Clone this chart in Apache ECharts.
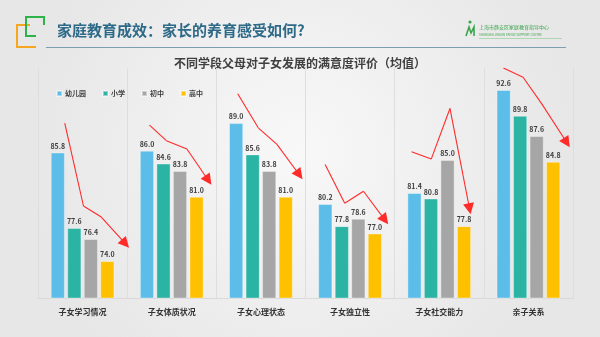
<!DOCTYPE html>
<html><head><meta charset="utf-8">
<script src="https://cdn.jsdelivr.net/npm/echarts@6/dist/echarts.min.js"></script>
<style>html,body{margin:0;padding:0;}#c{width:600px;height:337px;}</style>
</head><body><div id="c"></div>
<script>
const categories = ['子女学习情况','子女体质状况','子女心理状态','子女独立性','子女社交能力','亲子关系'];
const seriesNames = ['幼儿园','小学','初中','高中'];
const kindergarten = [85.8, 86.0, 89.0, 80.2, 81.4, 92.6];
const primary = [77.6, 84.6, 85.6, 77.8, 80.8, 89.8];
const juniorHigh = [76.4, 83.8, 83.8, 78.6, 85.0, 87.6];
const seniorHigh = [74.0, 81.0, 81.0, 77.0, 77.8, 84.8];
const colors = ['#5cbde9', '#2bb3a4', '#a6a6a6', '#ffc000'];
// red trend arrows: per category, points as [offset from category centre, value]
const arrowPaths = [
  [[-0.20, 89.0], [0.01, 80.0], [0.21, 78.8], [0.48, 75.9]],
  [[-0.25, 88.8], [-0.06, 87.1], [0.17, 86.2], [0.41, 82.8]],
  [[-0.26, 92.2], [-0.03, 88.5], [0.18, 86.7], [0.43, 83.4]],
  [[-0.28, 84.5], [-0.06, 80.3], [0.15, 81.6], [0.39, 78.5]],
  [[-0.31, 85.9], [-0.09, 85.1], [0.12, 90.6], [0.34, 79.7]],
  [[-0.28, 95.0], [-0.06, 94.0], [0.15, 91.1], [0.43, 86.9]]
];
const title = '家庭教育成效：家长的养育感受如何?';
const subtitle = '不同学段父母对子女发展的满意度评价（均值）';
const font = '"Noto Sans CJK SC", sans-serif';

const values = [kindergarten, primary, juniorHigh, seniorHigh];
const bodySegs = [], headSegs = [];
arrowPaths.forEach((pts, i) => {
  const c = pts.map(p => [i + p[0], p[1]]);
  for (let k = 0; k < c.length - 1; k++) {
    (k === c.length - 2 ? headSegs : bodySegs).push({coords: [c[k], c[k + 1]]});
  }
});

const chart = echarts.init(document.getElementById('c'));
chart.setOption({
  backgroundColor: {type: 'radial', x: 0.5, y: 0.45, r: 0.8,
    colorStops: [{offset: 0, color: '#f8f8f8'}, {offset: 1, color: '#e7e7e7'}]},
  animation: false,
  textStyle: {fontFamily: font},
  graphic: [
    {type: 'polyline', shape: {points: [[30, 25], [17, 25], [17, 47], [36, 47]]}, style: {stroke: '#f5a623', lineWidth: 2, fill: null}},
    {type: 'polyline', shape: {points: [[44, 25], [44, 17], [26, 17], [26, 36], [36, 36]]}, style: {stroke: '#2db34a', lineWidth: 2, fill: null}},
    {type: 'text', left: 57, top: 23, style: {text: title, fill: '#2d6a88', font: 'bold 15px ' + font}},
    {type: 'line', shape: {x1: 46, y1: 47.5, x2: 566, y2: 47.5}, style: {stroke: '#7d9db0', lineWidth: 1}},
    {type: 'circle', shape: {cx: 470, cy: 22, r: 1.6}, style: {fill: '#3aa64a'}},
    {type: 'polyline', shape: {points: [[466, 36], [469, 27], [471, 33], [474, 27], [474, 36]]}, style: {stroke: '#3aa64a', lineWidth: 1.6, fill: null}},
    {type: 'text', left: 479, top: 25, style: {text: '上海市静安区家庭教育指导中心', fill: '#3aa64a', font: '5px ' + font}},
    {type: 'text', left: 479, top: 33, style: {text: 'SHANGHAI JINGAN FAMILY SUPPORT CENTRE', fill: '#3aa64a', font: '3px ' + font}},
    {type: 'line', shape: {x1: 479, y1: 38.5, x2: 562, y2: 38.5}, style: {stroke: '#8cc98f', lineWidth: 0.6}},
    {type: 'text', left: 'center', top: 57, style: {text: subtitle, fill: '#404040', font: 'bold 12px ' + font}}
  ],
  legend: {
    data: seriesNames, left: 51, top: 85, icon: 'rect', itemWidth: 5, itemHeight: 5, itemGap: 16,
    textStyle: {fontSize: 7, color: '#404040', fontWeight: 'bold', fontFamily: font, padding: [0, 0, 0, -2]}
  },
  grid: {left: 38, right: 27, top: 68, bottom: 39},
  xAxis: [{
    type: 'category', data: categories,
    axisLine: {lineStyle: {color: '#d9d9d9'}}, axisTick: {show: false},
    splitLine: {show: true, lineStyle: {color: '#dedede', width: 1}},
    axisLabel: {fontSize: 8, fontWeight: 'bold', color: '#333', margin: 10, fontFamily: font}
  }, {
    type: 'value', min: -0.5, max: 5.5, show: false
  }],
  yAxis: {type: 'value', min: 70, max: 95, show: false, splitLine: {show: false}},
  series: seriesNames.map((n, i) => ({
    name: n, type: 'bar', data: values[i], barWidth: 14, barGap: '18%',
    itemStyle: {color: colors[i], borderColor: 'rgba(255,255,255,0.45)', borderWidth: 0.8},
    label: {show: true, position: 'top', distance: 3, fontSize: 7, fontWeight: 'bold', color: '#404040',
      fontFamily: font, formatter: p => p.value.toFixed(1)}
  })).concat([
    {type: 'lines', coordinateSystem: 'cartesian2d', xAxisIndex: 1, yAxisIndex: 0, z: 5,
      symbol: 'none', lineStyle: {color: '#ff2a2a', width: 1.1, opacity: 1, curveness: 0}, data: bodySegs},
    {type: 'lines', coordinateSystem: 'cartesian2d', xAxisIndex: 1, yAxisIndex: 0, z: 5,
      symbol: ['none', 'triangle'], symbolSize: [10, 11],
      lineStyle: {color: '#ff2a2a', width: 1.1, opacity: 1, curveness: 0}, data: headSegs}
  ])
});
</script></body></html>
